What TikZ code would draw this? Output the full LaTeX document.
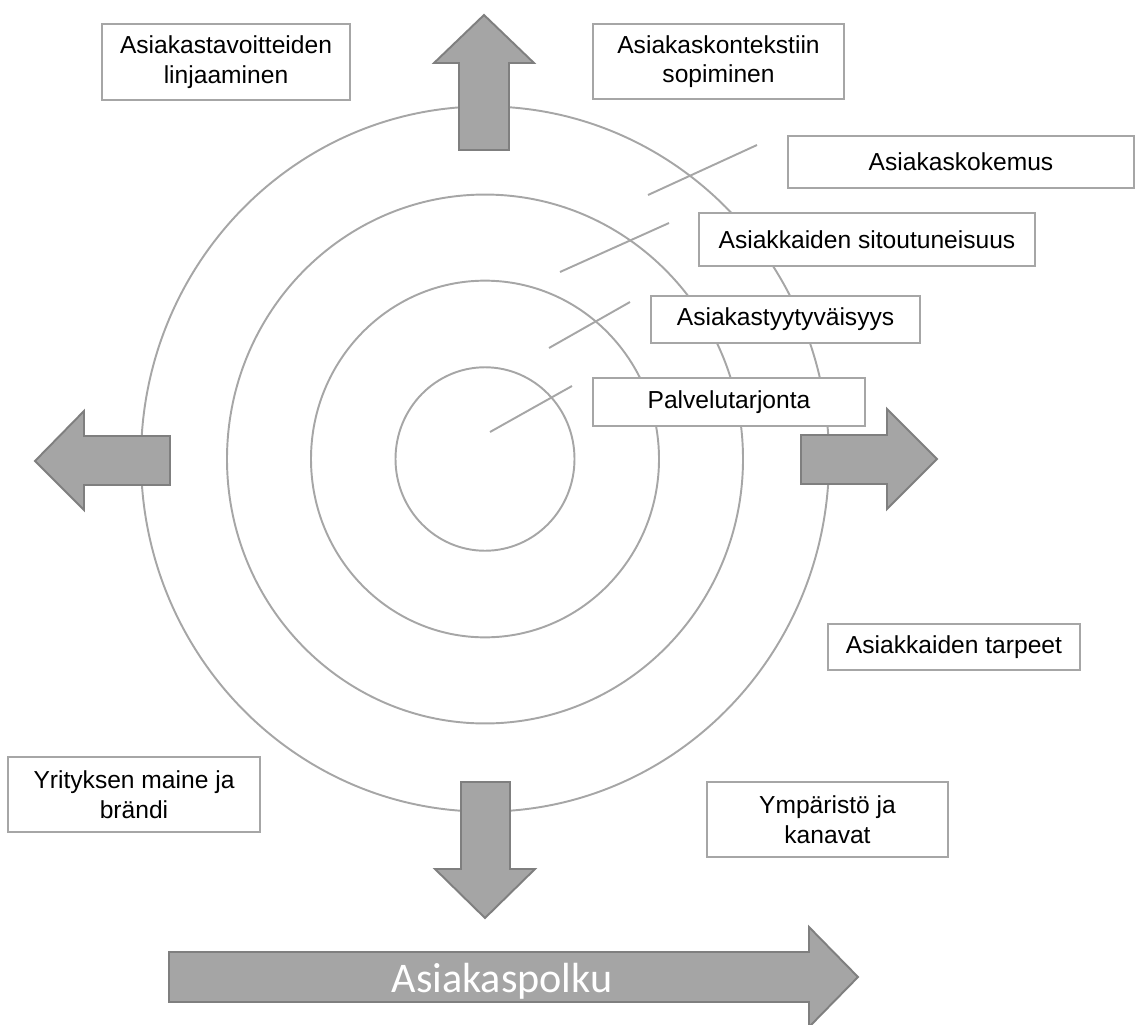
\documentclass[tikz,border=0pt]{standalone}
\usepackage{fontspec}
\setmainfont{Liberation Sans}
\newfontfamily\pathfont{Carlito}
\usetikzlibrary{calc}
\definecolor{ringgray}{HTML}{A6A6A6}
\definecolor{arrowfill}{HTML}{A5A5A5}
\definecolor{arrowline}{HTML}{7F7F7F}
\newcommand\pxu{0.02cm}
\tikzset{
	ring/.style={draw=ringgray, line width=1.1pt},
	lead/.style={draw=ringgray, line width=1.1pt},
	infobox/.style={draw=ringgray, line width=1.1pt, fill=white, align=center, inner sep=0pt, font=\fontsize{14}{16.8}\selectfont},
	fatarrow/.style={fill=arrowfill, draw=arrowline, line width=1.1pt, line join=miter},
}

\begin{document}
\begin{tikzpicture}[x=\pxu, y=-\pxu]
			%%%%% START %%%%%
			\useasboundingbox (0,0) rectangle (1135,1024);
			\clip (0,0) rectangle (1135,1024);
			
			\coordinate (centre) at (485,459);
			\foreach \r in {89.5,174,258,344}
				\draw[ring] (centre) ellipse [x radius=\r*\pxu, y radius=1.025*\r*\pxu];
			
			\coordinate (l1a) at (490,432);
			\coordinate (l1b) at (572,386);
			\coordinate (l2a) at (549,348);
			\coordinate (l2b) at (630,302);
			\coordinate (l3a) at (560,272);
			\coordinate (l3b) at (669,223);
			\coordinate (l4a) at (648,195);
			\coordinate (l4b) at (757,145);
			\draw[lead] (l1a) -- (l1b);
			\draw[lead] (l2a) -- (l2b);
			\draw[lead] (l3a) -- (l3b);
			\draw[lead] (l4a) -- (l4b);
			
			\node[infobox, minimum width=272*\pxu, minimum height=48*\pxu] (palvelu) at (729,402) {Palvelutarjonta};
			\node[infobox, minimum width=269*\pxu, minimum height=47*\pxu] (tyyty) at (785.5,319.5) {Asiakastyytyväisyys};
			\node[infobox, minimum width=336*\pxu, minimum height=53*\pxu] (sitout) at (867,239.5) {Asiakkaiden sitoutuneisuus};
			\node[infobox, minimum width=346*\pxu, minimum height=52*\pxu] (kokemus) at (961,162) {Asiakaskokemus};
			
			\node[infobox, minimum width=248*\pxu, minimum height=76*\pxu] (tavoite) at (226,62) {Asiakastavoitteiden\\linjaaminen};
			\node[infobox, minimum width=251*\pxu, minimum height=75*\pxu] (konteksti) at (718.5,61.5) {Asiakaskontekstiin\\sopiminen};
			\node[infobox, minimum width=252*\pxu, minimum height=46*\pxu] (tarpeet) at (954,647) {Asiakkaiden tarpeet};
			\node[infobox, minimum width=252*\pxu, minimum height=75*\pxu] (maine) at (134,794.5) {Yrityksen maine ja\\brändi};
			\node[infobox, minimum width=241*\pxu, minimum height=75*\pxu] (ymparisto) at (827.5,819.5) {Ympäristö ja\\kanavat};
			
			% nuolet
			\draw[fatarrow] (459,150) -- (459,63) -- (434,63) -- (484,15) -- (534,63) -- (509,63) -- (509,150) -- cycle;
			\draw[fatarrow] (170,436) -- (84,436) -- (84,411) -- (35,461) -- (84,510) -- (84,485) -- (170,485) -- cycle;
			\draw[fatarrow] (801,435) -- (887,435) -- (887,409) -- (937,459) -- (887,509) -- (887,484) -- (801,484) -- cycle;
			\draw[fatarrow] (461,782) -- (510,782) -- (510,869) -- (535,869) -- (485,918) -- (435,869) -- (461,869) -- cycle;
			
			\draw[fatarrow] (169,952) -- (809,952) -- (809,927) -- (858,977) -- (809,1027) -- (809,1002) -- (169,1002) -- cycle;
			\node[font=\pathfont\fontsize{24}{28}\selectfont, text=white, anchor=base] (polku) at (502,992) {Asiakaspolku};
			
			%%%%% END %%%%%
\end{tikzpicture}
\end{document}
